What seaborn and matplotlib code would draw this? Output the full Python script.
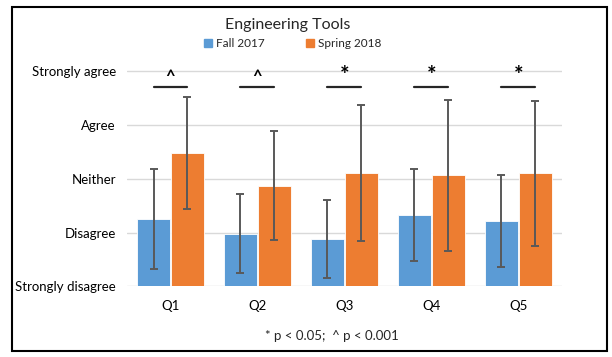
import matplotlib
matplotlib.use("Agg")
import matplotlib.pyplot as plt
import seaborn as sns
import pandas as pd
import numpy as np
from matplotlib.patches import Rectangle

questions = ["Q1", "Q2", "Q3", "Q4", "Q5"]
terms = ["Fall 2017", "Spring 2018"]
fall_mean = [2.25, 1.98, 1.88, 2.32, 2.22]
fall_sd = [0.93, 0.73, 0.715, 0.855, 0.855]
spring_mean = [3.48, 2.87, 3.10, 3.06, 3.10]
spring_sd = [1.035, 1.01, 1.265, 1.405, 1.34]
sig_marks = ["^", "^", "*", "*", "*"]
ytick_vals = [1, 2, 3, 4, 5]
ytick_labels = ["Strongly disagree", "Disagree", "Neither", "Agree", "Strongly agree"]
footnote = "* p < 0.05;  ^ p < 0.001"

sns.set_style("white")
plt.rcParams["font.family"] = ["Lato", "DejaVu Sans"]

df = pd.DataFrame({
    "Question": questions * 2,
    "Term": [terms[0]] * 5 + [terms[1]] * 5,
    "Mean": fall_mean + spring_mean,
    "SD": fall_sd + spring_sd,
})

fig = plt.figure(figsize=(6.12, 3.57), dpi=100)
ax = fig.add_axes([0.2075, 0.1975, 0.7105, 0.642])
palette = {"Fall 2017": "#5B9BD5", "Spring 2018": "#ED7D31"}
sns.barplot(data=df, x="Question", y="Mean", hue="Term", palette=palette,
            errorbar=None, width=0.78, gap=0.04, ax=ax, saturation=1,
            edgecolor="white", linewidth=0.6)

ax.set_ylim(1, 5.25)
ax.set_xlim(-0.5, 4.5)
ax.set_yticks(ytick_vals)
ax.set_yticklabels(ytick_labels)
ax.yaxis.grid(True, color="#D9D9D9", linewidth=1.0)
ax.set_axisbelow(True)
for s in ax.spines.values():
    s.set_visible(False)
ax.tick_params(axis="both", length=0, labelsize=9.5, colors="black")
ax.tick_params(axis="y", pad=8)
ax.tick_params(axis="x", pad=10)
ax.set_xlabel("")
ax.set_ylabel("")

# error bars from bar centres
centers = {}
for cont, term, means, sds in zip(ax.containers, terms, [fall_mean, spring_mean], [fall_sd, spring_sd]):
    xs = [p.get_x() + p.get_width() / 2 for p in cont.patches]
    centers[term] = xs
    ax.errorbar(xs, means, yerr=sds, fmt="none", ecolor="#595959",
                elinewidth=1.4, capsize=3, capthick=1.4, zorder=5)

# significance markers
for i, m in enumerate(sig_marks):
    x0 = centers[terms[0]][i]
    x1 = centers[terms[1]][i]
    ax.plot([x0, x1], [4.69, 4.69], color="#262626", lw=1.6, clip_on=False)
    if m == "*":
        ax.text((x0 + x1) / 2, 4.72, m, ha="center", va="bottom", fontsize=16,
                fontweight="bold", color="black")
    else:
        ax.text((x0 + x1) / 2, 4.73, m, ha="center", va="bottom", fontsize=12,
                fontweight="bold", color="black")

ax.legend_.remove()
handles = [Rectangle((0, 0), 1, 1, color=palette[t]) for t in terms]
fig.legend(handles, terms, loc="center", bbox_to_anchor=(0.478, 0.877), ncol=2,
           frameon=False, fontsize=8.5, handlelength=0.7, handleheight=0.7,
           handletextpad=0.3, columnspacing=3.5, borderpad=0, borderaxespad=0)

fig.text(0.47, 0.93, "Engineering Tools", ha="center", va="center", fontsize=11.5)
fig.text(0.543, 0.06, footnote, ha="center", va="center", fontsize=9.5)

fig.patches.append(Rectangle((12 / 612, 6 / 357), 595 / 612, 344 / 357,
                             transform=fig.transFigure, fill=False,
                             edgecolor="black", linewidth=1.5))

fig.savefig("out.png", dpi=100)
